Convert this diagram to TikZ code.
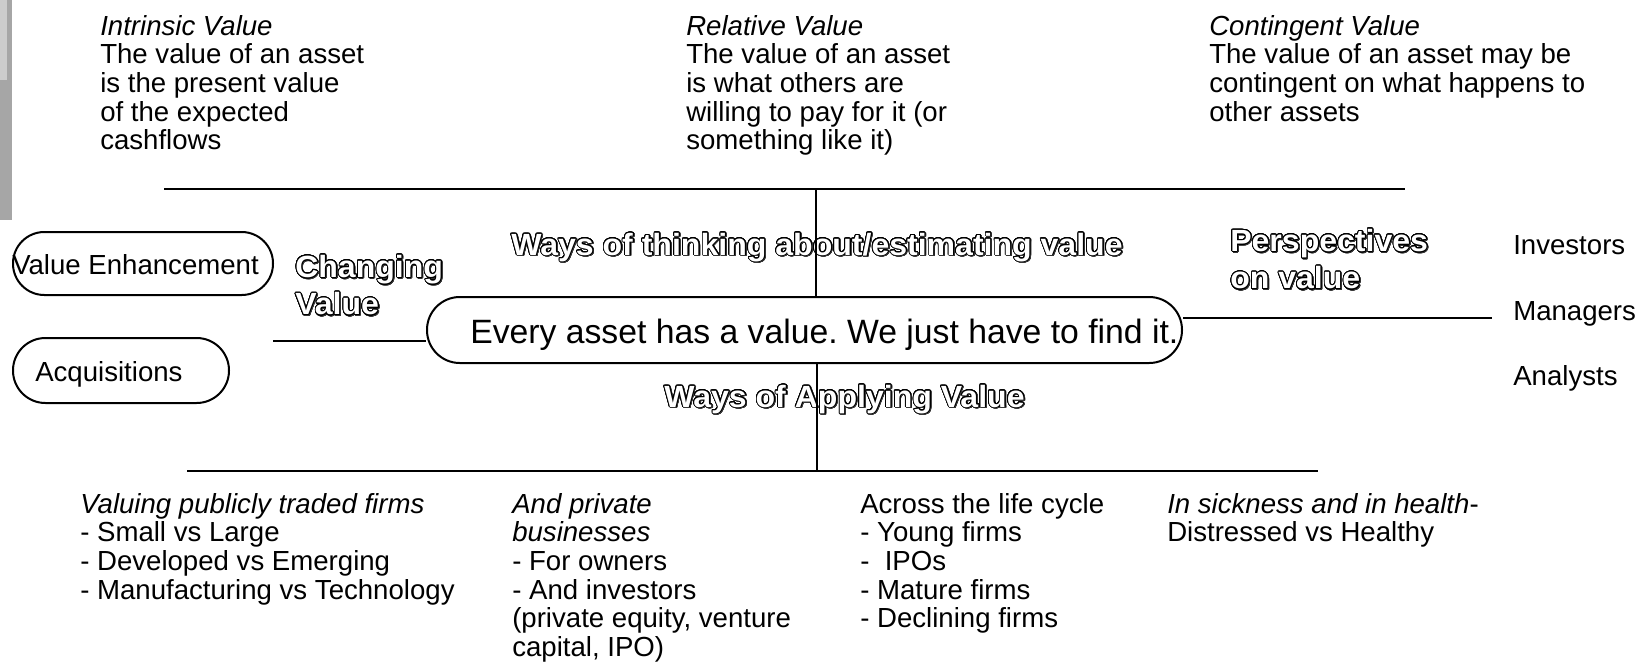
\documentclass[tikz,border=0pt]{standalone}
\usepackage{fontspec}
\setmainfont{Liberation Sans}
\newfontfamily\outfont[FakeStretch=1.045]{Liberation Sans Bold}
\usepackage{contour}
\contourlength{0.6pt}
\contournumber{32}
\newcommand\fst{\rule{0pt}{15pt}}
\newcommand\ofst{\rule{0pt}{19pt}}
\newcommand\outl[1]{\makebox[0pt][l]{\hspace{0.7pt}\raisebox{-0.7pt}{\color{black!80}\contour{black!80}{#1}}}{\color{white}\contour{black}{#1}}}
\frenchspacing
\begin{document}
\begin{tikzpicture}[x=0.75pt,y=-0.75pt,
  line/.style={line width=1.5pt},
  pill/.style={draw, line width=1.5pt, rounded corners=#1, inner sep=0pt},
  txt/.style={inner sep=0pt, font=\fontsize{20.7}{21.5}\selectfont, align=left},
  outlbl/.style={inner sep=0pt, font=\fontsize{23}{28}\selectfont\outfont, align=left},
  bigtxt/.style={inner sep=0pt, font=\fontsize{25.3}{30}\selectfont}]
\useasboundingbox (0,0) rectangle (1643,664);
% grey strip at the left edge
\fill[gray!70] (0,0) rectangle (12,220);
\fill[gray!40] (0,0) rectangle (7,80);

% top texts
\node[txt, anchor=north west] (intr) at (100,15) {\fst\textit{Intrinsic Value}\\The value of an asset\\is the present value\\of the expected\\cashflows};
\node[txt, anchor=north west] (rel) at (686,15) {\fst\textit{Relative Value}\\The value of an asset\\is what others are\\willing to pay for it (or\\something like it)};
\node[txt, anchor=north west] (cont) at (1209,15) {\fst\textit{Contingent Value}\\The value of an asset may be\\contingent on what happens to\\other assets};

% bottom texts
\node[txt, anchor=north west] (pub) at (80,493) {\fst\textit{Valuing publicly traded firms}\\- Small vs Large\\- Developed vs Emerging\\- Manufacturing vs Technology};
\node[txt, anchor=north west] (priv) at (512,493) {\fst\textit{And private}\\\textit{businesses}\\- For owners\\- And investors\\(private equity, venture\\capital, IPO)};
\node[txt, anchor=north west] (life) at (860,493) {\fst Across the life cycle\\- Young firms\\-\ \ IPOs\\- Mature firms\\- Declining firms};
\node[txt, anchor=north west] (sick) at (1167,493) {\fst\textit{In sickness and in health}-\\Distressed vs Healthy};

% right column
\node[txt, anchor=base west] (inv) at (1513,254) {Investors};
\node[txt, anchor=base west] (man) at (1513,320) {Managers};
\node[txt, anchor=base west] (ana) at (1513,385) {Analysts};

% outlined labels
\node[outlbl, anchor=base west] (ways1) at (511,255) {\outl{Ways of thinking about/estimating value}};
\node[outlbl, anchor=base west] (ways2) at (664,407) {\outl{Ways of Applying Value}};
\node[outlbl, anchor=north west] (chg) at (295,251.7) {\ofst\outl{Changing}\\\outl{Value}};
\node[outlbl, anchor=north west] (persp) at (1230,225.7) {\ofst\outl{Perspectives}\\\outl{on value}};

% ovals
\node[pill=23.5pt, minimum width=195pt, minimum height=47.25pt] (ve) at (143,263.5) {};
\node[txt, anchor=base west] (vet) at (12,274.5) {Value Enhancement};
\node[pill=24.3pt, minimum width=162pt, minimum height=48.75pt] (acq) at (121,370.5) {};
\node[txt, anchor=base west] (acqt) at (35,381) {Acquisitions};
\node[pill=24.6pt, minimum width=566.25pt, minimum height=49.5pt] (core) at (804.5,330) {};
\node[bigtxt, anchor=base west] (coret) at (470,343) {Every asset has a value. We just have to find it.};

% connectors
\coordinate (tl) at (164,189);
\coordinate (tr) at (1405,189);
\coordinate (tj) at (816,189);
\draw[line] (tl) -- (tr);
\draw[line] (tj) -- (tj |- core.north);
\coordinate (bl) at (187,471);
\coordinate (br) at (1318,471);
\coordinate (bj) at (817,471);
\draw[line] (bl) -- (br);
\draw[line] (core.south -| bj) -- (bj);
\coordinate (lf) at (273,341);
\draw[line] (lf) -- (lf -| core.west);
\coordinate (rt) at (1492,318);
\draw[line] (rt -| core.east) -- (rt);
\end{tikzpicture}
\end{document}
